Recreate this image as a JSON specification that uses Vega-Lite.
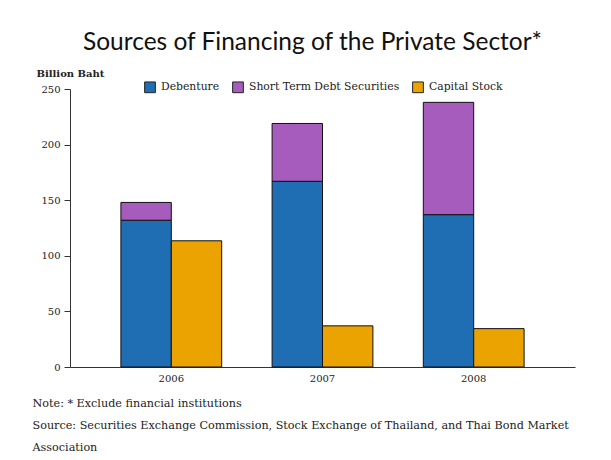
{
  "$schema": "https://vega.github.io/schema/vega-lite/v6.json",
  "autosize": "none",
  "width": 505,
  "height": 278,
  "padding": {"left": 70, "top": 89, "right": 36, "bottom": 93},
  "background": "white",
  "title": {
    "text": "Sources of Financing of the Private Sector*",
    "font": "Lato",
    "fontSize": 24.5,
    "fontWeight": "normal",
    "color": "#111",
    "anchor": "middle",
    "dx": -10,
    "offset": 13
  },
  "data": {
    "values": [
      {"year": "2006", "type": "Debenture", "group": "Debt", "value": 132},
      {"year": "2006", "type": "Short Term Debt Securities", "group": "Debt", "value": 16},
      {"year": "2006", "type": "Capital Stock", "group": "Equity", "value": 113.5},
      {"year": "2007", "type": "Debenture", "group": "Debt", "value": 167},
      {"year": "2007", "type": "Short Term Debt Securities", "group": "Debt", "value": 52},
      {"year": "2007", "type": "Capital Stock", "group": "Equity", "value": 37},
      {"year": "2008", "type": "Debenture", "group": "Debt", "value": 137},
      {"year": "2008", "type": "Short Term Debt Securities", "group": "Debt", "value": 101},
      {"year": "2008", "type": "Capital Stock", "group": "Equity", "value": 34.5}
    ]
  },
  "mark": {"type": "bar", "stroke": "#111", "strokeWidth": 1},
  "encoding": {
    "x": {
      "field": "year",
      "type": "nominal",
      "scale": {"paddingInner": 0, "paddingOuter": 0.17},
      "axis": {
        "labelAngle": 0,
        "labelFont": "DejaVu Serif",
        "labelFontSize": 10,
        "labelColor": "#222",
        "labelPadding": 6,
        "ticks": false,
        "domainColor": "#333",
        "title": [
          "Note: * Exclude financial institutions",
          "Source: Securities Exchange Commission, Stock Exchange of Thailand, and Thai Bond Market",
          "Association"
        ],
        "titleFont": "DejaVu Serif",
        "titleFontSize": 11.2,
        "titleFontWeight": "normal",
        "titleColor": "#222",
        "titleAlign": "left",
        "titleAnchor": "start",
        "titleBaseline": "top",
        "titleLineHeight": 22,
        "titleX": -38,
        "titleY": 30
      }
    },
    "xOffset": {
      "field": "group",
      "type": "nominal",
      "scale": {"paddingInner": 0, "paddingOuter": 0.5}
    },
    "y": {
      "field": "value",
      "type": "quantitative",
      "stack": "zero",
      "scale": {"domain": [0, 250]},
      "axis": {
        "values": [0, 50, 100, 150, 200, 250],
        "grid": false,
        "labelFont": "DejaVu Serif",
        "labelFontSize": 10,
        "labelColor": "#222",
        "labelPadding": 4,
        "tickSize": 6,
        "tickColor": "#333",
        "domainColor": "#333",
        "title": "Billion Baht",
        "titleFont": "DejaVu Serif",
        "titleFontSize": 10,
        "titleFontWeight": "bold",
        "titleColor": "#222",
        "titleAngle": 0,
        "titleAlign": "left",
        "titleBaseline": "alphabetic",
        "titleX": -34,
        "titleY": -13
      }
    },
    "color": {
      "field": "type",
      "type": "nominal",
      "scale": {
        "domain": ["Debenture", "Short Term Debt Securities", "Capital Stock"],
        "range": ["#1f6db3", "#a65cbc", "#eaa300"]
      },
      "legend": {
        "orient": "none",
        "direction": "horizontal",
        "legendX": 74,
        "legendY": -8,
        "title": null,
        "symbolType": "square",
        "symbolSize": 115,
        "symbolStrokeColor": "#222",
        "symbolStrokeWidth": 1,
        "symbolOpacity": 1,
        "labelFont": "DejaVu Serif",
        "labelFontSize": 10.8,
        "labelColor": "#222",
        "columnPadding": 10,
        "labelOffset": 5
      }
    },
    "order": {"field": "type", "type": "nominal"}
  },
  "config": {
    "view": {"stroke": null}
  }
}
